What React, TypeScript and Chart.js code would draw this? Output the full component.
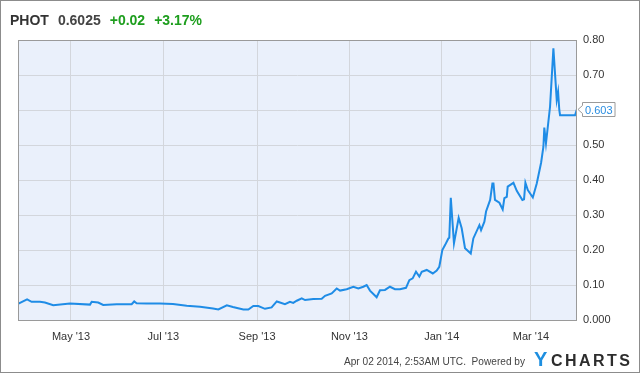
import React, { useEffect, useRef } from "react";
import { Chart, registerables } from "chart.js";

Chart.register(...registerables);

// Days since 2013-04-01 (negative = late March 2013)
const dayOffsets = [
  -5, 1, 4, 9.5, 12.8, 18.3, 29.3, 42.6, 43.7, 48, 51.3, 60.2, 70.1, 71.8, 73.4, 80, 88.8, 97.4,
  106.5, 115.3, 123.9, 127.4, 133, 137, 143.9, 147.2, 150.5, 153.8, 158.2, 162.6, 166, 168.1,
  171.4, 174.7, 176.9, 179.2, 182.5, 184.7, 190.1, 195.7, 197.9, 202.3, 205.6, 207.8, 212.2,
  216.6, 219.9, 223.2, 225.4, 227.6, 232, 234.2, 237.5, 240.8, 244.1, 247.4, 251.4, 253.6,
  255.8, 258, 260.2, 261.8, 265.1, 269.1, 271.7, 273.4, 275.4, 277.2, 279.4, 280, 281, 283.1,
  286.2, 288.2, 290.4, 294.2, 295.9, 299.9, 301, 303.2, 304.3, 307, 308.5, 309.2, 310.2,
  313.1, 315.3, 316.4, 318, 318.6, 322.4, 324.6, 328.3, 329.4, 330.3, 331.9, 335.2, 337.8,
  340.7, 342.2, 342.8, 343.9, 346.6, 348.8, 351, 351.9, 352.7, 353.2, 363.1, 364.4,
];
const prices = [
  0.046, 0.059, 0.052, 0.052, 0.05, 0.042, 0.047, 0.044, 0.052, 0.05, 0.043, 0.045, 0.045,
  0.053, 0.048, 0.047, 0.047, 0.046, 0.041, 0.038, 0.033, 0.03, 0.042, 0.037, 0.03, 0.03,
  0.04, 0.04, 0.032, 0.036, 0.053, 0.05, 0.045, 0.052, 0.049, 0.055, 0.062, 0.057, 0.06,
  0.061, 0.069, 0.076, 0.09, 0.084, 0.088, 0.095, 0.09, 0.095, 0.1, 0.084, 0.065, 0.085,
  0.086, 0.095, 0.088, 0.088, 0.092, 0.114, 0.119, 0.138, 0.124, 0.138, 0.143, 0.133, 0.141,
  0.152, 0.2, 0.214, 0.233, 0.235, 0.349, 0.219, 0.292, 0.262, 0.205, 0.19, 0.233, 0.271,
  0.257, 0.281, 0.31, 0.343, 0.39, 0.39, 0.343, 0.335, 0.316, 0.348, 0.352, 0.381, 0.392,
  0.369, 0.343, 0.345, 0.392, 0.371, 0.35, 0.39, 0.45, 0.495, 0.55, 0.505, 0.61, 0.776,
  0.629, 0.652, 0.6, 0.585, 0.585, 0.6025,
];

const monthTickDays = [30, 91, 153, 214, 275, 334];
const monthTickLabels = ["May '13", "Jul '13", "Sep '13", "Nov '13", "Jan '14", "Mar '14"];

const ticker = "PHOT";
const lastPrice = "0.6025";
const changeAbs = "+0.02";
const changePct = "+3.17%";
const lastLabel = "0.603";
const footerText = "Apr 02 2014, 2:53AM UTC.  Powered by";

const FONT = "'Liberation Sans', Arial, Helvetica, sans-serif";
const LINE_COLOR = "#1f8ce6";

export default function App() {
  const canvasRef = useRef<HTMLCanvasElement | null>(null);

  useEffect(() => {
    const canvas = canvasRef.current;
    if (!canvas) return;

    const decorPlugin = {
      id: "decor",
      beforeDraw(chart: any) {
        const { ctx, chartArea: a, width, height } = chart;
        ctx.save();
        ctx.fillStyle = "#ffffff";
        ctx.fillRect(0, 0, width, height);
        ctx.fillStyle = "#eaf0fb";
        ctx.fillRect(a.left, a.top, a.right - a.left, a.bottom - a.top);
        ctx.restore();
      },
      afterDraw(chart: any) {
        const { ctx, chartArea: a, width, height } = chart;
        ctx.save();
        // plot border
        ctx.strokeStyle = "#9a9a9a";
        ctx.lineWidth = 1;
        ctx.strokeRect(Math.round(a.left) + 0.5, Math.round(a.top) + 0.5, Math.round(a.right - a.left) - 1, Math.round(a.bottom - a.top));

        // outer frame
        ctx.strokeStyle = "#8c8c8c";
        ctx.strokeRect(0.5, 0.5, width - 1, height - 1);

        // title
        ctx.textBaseline = "alphabetic";
        ctx.textAlign = "left";
        ctx.font = `bold 14px ${FONT}`;
        let x = 10;
        const y = 25;
        const parts = [
          { t: ticker, c: "#333333" },
          { t: lastPrice, c: "#444444" },
          { t: changeAbs, c: "#1e9e1e" },
          { t: changePct, c: "#1e9e1e" },
        ];
        parts.forEach((p) => {
          ctx.fillStyle = p.c;
          ctx.fillText(p.t, x, y);
          x += ctx.measureText(p.t).width + 9;
        });

        // footer
        ctx.font = `11px ${FONT}`;
        ctx.fillStyle = "#444444";
        ctx.textAlign = "left";
        const fw = ctx.measureText(footerText).width;
        ctx.save();
        ctx.translate(344, 365);
        ctx.scale(181 / fw, 1);
        ctx.fillText(footerText, 0, 0);
        ctx.restore();

        ctx.font = `bold 20px ${FONT}`;
        ctx.fillStyle = "#1e8fe0";
        ctx.fillText("Y", 534, 366);
        ctx.font = `bold 16px ${FONT}`;
        ctx.fillStyle = "#2d2d2d";
        const letters = "CHARTS".split("");
        const lw = letters.map((c) => ctx.measureText(c).width);
        const total = lw.reduce((s, v) => s + v, 0);
        const start = 551;
        const end = 630;
        const gap = (end - start - total) / (letters.length - 1);
        let lx = start;
        letters.forEach((c, i) => {
          ctx.fillText(c, lx, 366);
          lx += lw[i] + gap;
        });

        // last value callout
        const ds = chart.getDatasetMeta(0).data;
        const lastPt = ds[ds.length - 1];
        const ly = Math.round(lastPt.y) + 0.5;
        ctx.font = `11px ${FONT}`;
        const tw = ctx.measureText(lastLabel).width;
        const bx = a.right + 5;
        const bw = tw + 5;
        const bh = 14;
        ctx.beginPath();
        ctx.moveTo(a.right + 1, ly);
        ctx.lineTo(bx + 0.5, ly - 4);
        ctx.lineTo(bx + 0.5, ly - bh / 2);
        ctx.lineTo(bx + bw + 0.5, ly - bh / 2);
        ctx.lineTo(bx + bw + 0.5, ly + bh / 2);
        ctx.lineTo(bx + 0.5, ly + bh / 2);
        ctx.lineTo(bx + 0.5, ly + 4);
        ctx.closePath();
        ctx.fillStyle = "#ffffff";
        ctx.fill();
        ctx.strokeStyle = "#9a9a9a";
        ctx.stroke();
        ctx.fillStyle = "#2a8de0";
        ctx.textBaseline = "middle";
        ctx.fillText(lastLabel, bx + 3, ly + 1);
        ctx.restore();
      },
    };

    const chart = new Chart(canvas, {
      type: "line",
      data: {
        datasets: [
          {
            data: dayOffsets.map((d, i) => ({ x: d, y: prices[i] })),
            borderColor: LINE_COLOR,
            borderWidth: 2,
            pointRadius: 0,
            tension: 0,
            fill: false,
          },
        ],
      },
      options: {
        responsive: false,
        animation: false,
        events: [],
        layout: { padding: { top: 40, left: 18, right: 0, bottom: 0 } },
        plugins: { legend: { display: false }, tooltip: { enabled: false }, title: { display: false } },
        scales: {
          x: {
            type: "linear",
            min: -5,
            max: 364.4,
            afterFit(scale: any) {
              scale.height = 53;
            },
            afterBuildTicks(scale: any) {
              scale.ticks = monthTickDays.map((v) => ({ value: v }));
            },
            grid: { color: "#d3d6dc", lineWidth: 1, drawTicks: false },
            border: { display: false },
            ticks: {
              padding: 10,
              maxRotation: 0,
              autoSkip: false,
              color: "#333333",
              font: { family: FONT, size: 11 },
              callback(value: any) {
                const idx = monthTickDays.indexOf(Number(value));
                return idx >= 0 ? monthTickLabels[idx] : "";
              },
            },
          },
          y: {
            position: "right",
            min: 0,
            max: 0.8,
            afterFit(scale: any) {
              scale.width = 63;
            },
            grid: { color: "#d3d6dc", lineWidth: 1, drawTicks: false },
            border: { display: false },
            ticks: {
              stepSize: 0.1,
              padding: 6,
              color: "#333333",
              font: { family: FONT, size: 11 },
              callback(value: any) {
                const v = Number(value);
                return Math.abs(v) < 1e-9 ? "0.000" : v.toFixed(2);
              },
            },
          },
        },
      },
      plugins: [decorPlugin],
    } as any);

    return () => chart.destroy();
  }, []);

  return (
    <div style={{ position: "absolute", left: 0, top: 0, width: 640, height: 373 }}>
      <canvas ref={canvasRef} width={640} height={373} style={{ display: "block", width: 640, height: 373 }} />
    </div>
  );
}
